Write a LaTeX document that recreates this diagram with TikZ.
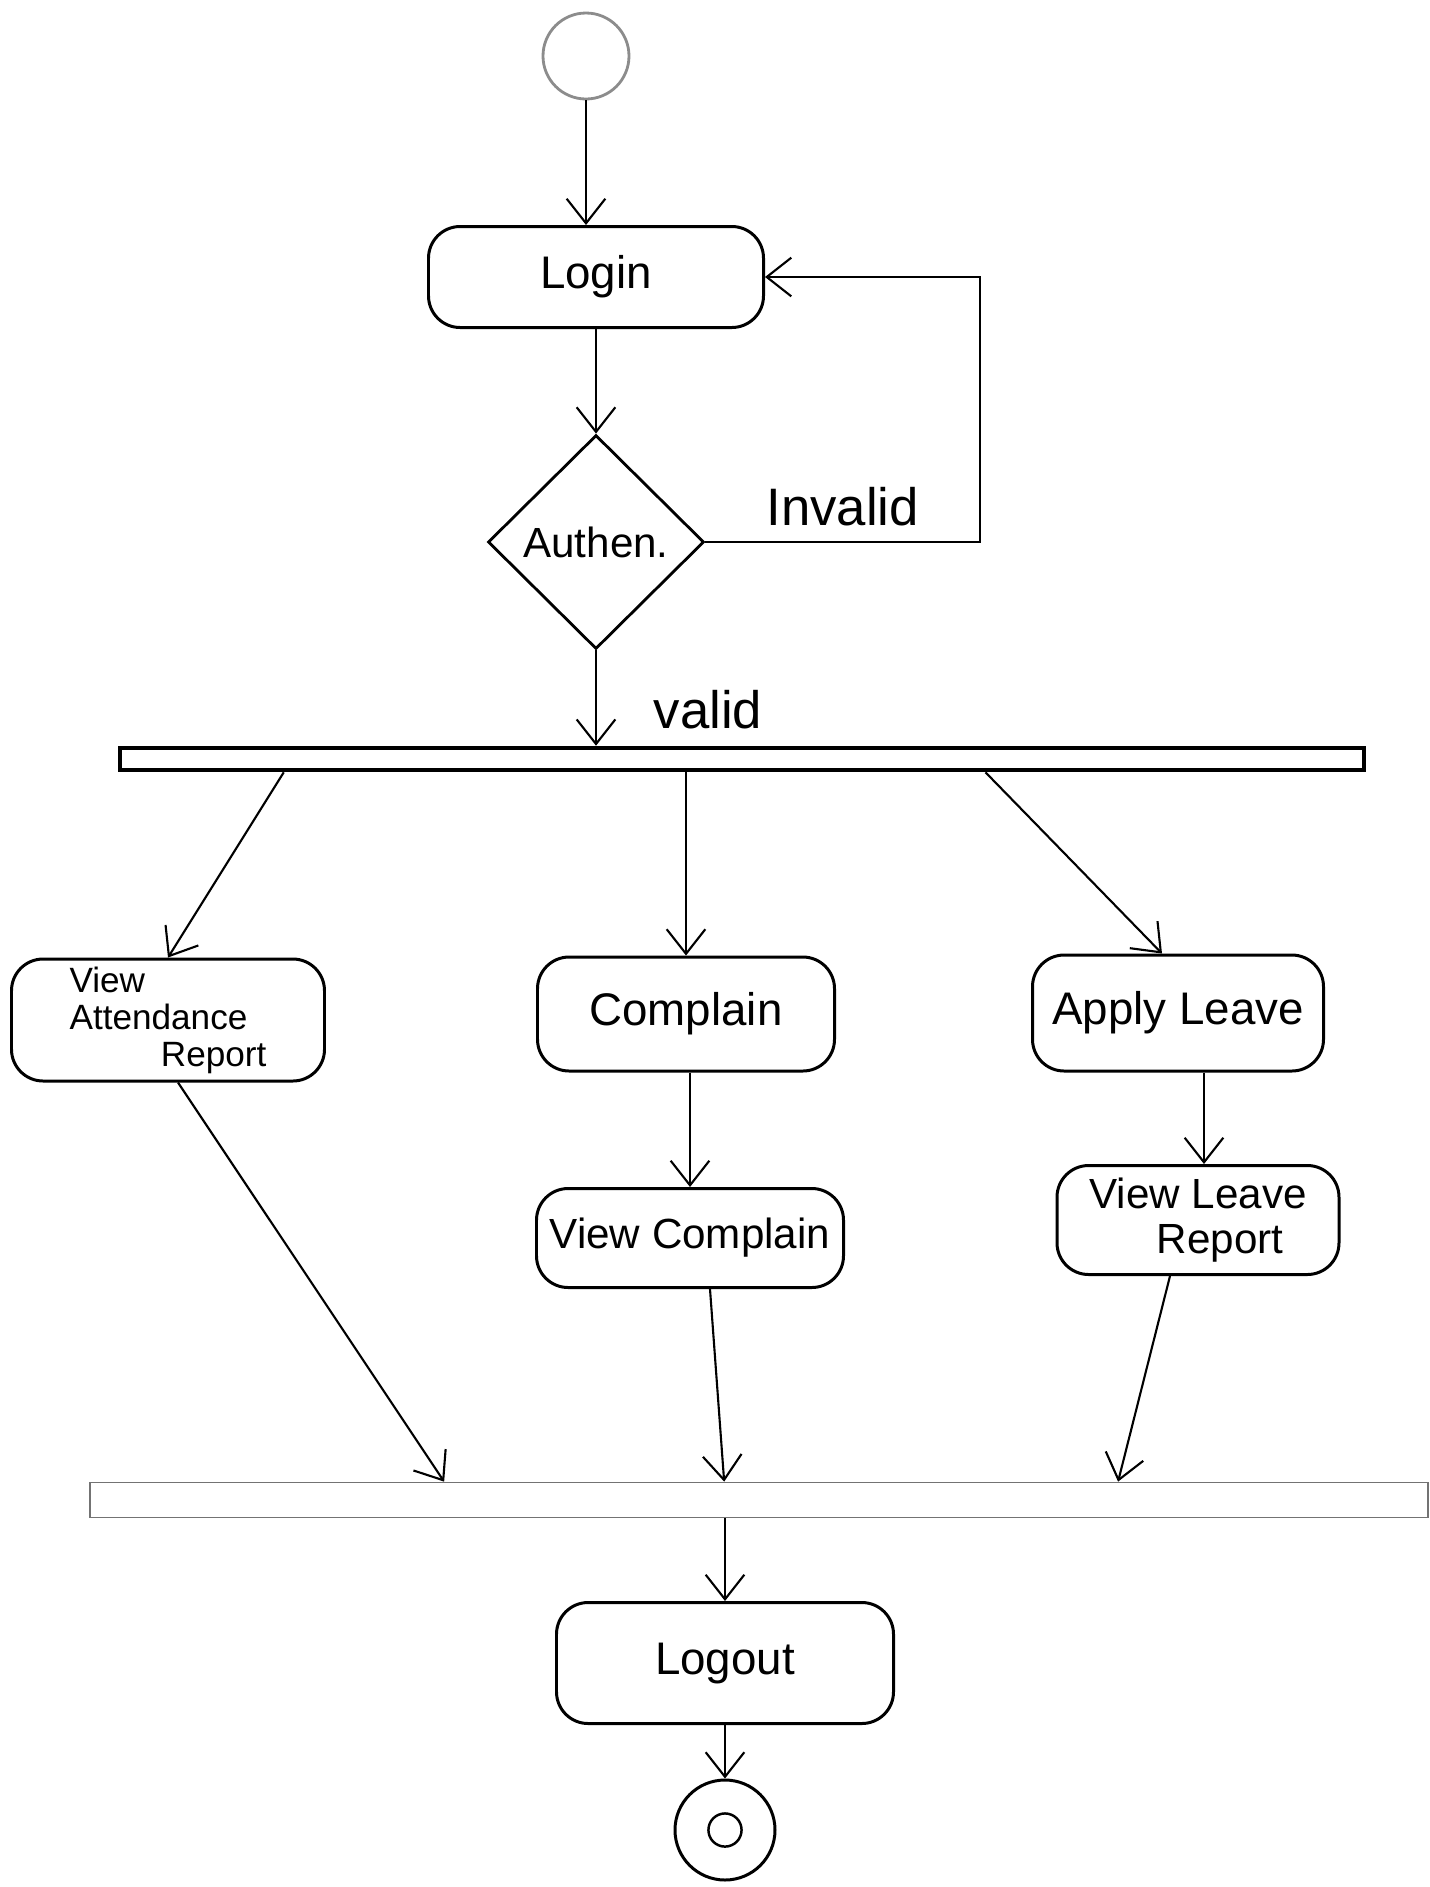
\documentclass[tikz,border=0pt]{standalone}
\usepackage{fontspec}
\setmainfont{Liberation Sans}
\usetikzlibrary{shapes.geometric,arrows.meta,calc}

\tikzset{
	activity/.style={draw, rounded corners=9pt, line width=0.85pt, align=center, font=\fontsize{13}{15}\selectfont},
	forkbar/.style={draw, rectangle, inner sep=0pt, line width=1.3pt},
	joinbar/.style={draw=black!55, rectangle, inner sep=0pt, line width=0.5pt},
	guard/.style={font=\fontsize{15}{17}\selectfont},
}

\begin{document}
\begin{tikzpicture}[>={Straight Barb[length=7pt,width=11pt]}, line width=0.6pt]
		\useasboundingbox (0,0) rectangle (14.30,-18.87);
		\node[circle,draw=black!45,line width=0.8pt,minimum size=0.86cm] (start) at (5.86,-0.56) {};
		\node[activity,minimum width=3.35cm,minimum height=1.01cm] (login) at (5.96,-2.77) {Login};
		\node[diamond,draw,line width=0.8pt,inner sep=0pt,minimum width=2.16cm,minimum height=2.14cm,font=\fontsize{12}{14}\selectfont] (authen) at (5.96,-5.42) {Authen.};
		\node[forkbar,minimum width=12.44cm,minimum height=0.22cm] (fork) at (7.42,-7.59) {};
		\coordinate (loopx) at (9.80,0);
		\node[activity,minimum width=3.13cm,minimum height=1.22cm,inner sep=2pt,font=\fontsize{10}{10.5}\selectfont,align=left] (attend) at (1.68,-10.20) {View\\Attendance\\\hspace*{2.6em}Report};
		\node[activity,minimum width=2.97cm,minimum height=1.14cm] (complain) at (6.86,-10.14) {Complain};
		\node[activity,minimum width=2.91cm,minimum height=1.16cm] (apply) at (11.78,-10.13) {Apply Leave};
		\node[activity,minimum width=3.07cm,minimum height=0.99cm,inner sep=3pt,font=\fontsize{12}{14}\selectfont] (viewcomp) at (6.90,-12.38) {View Complain};
		\node[activity,minimum width=2.82cm,minimum height=1.09cm,font=\fontsize{12}{13}\selectfont,align=left] (viewleave) at (11.98,-12.20) {View Leave\\\hspace*{1.6em}Report};
		\node[joinbar,minimum width=13.38cm,minimum height=0.35cm] (join) at (7.59,-15.00) {};
		\node[activity,minimum width=3.37cm,minimum height=1.21cm] (logout) at (7.25,-16.63) {Logout};
		\node[circle,draw,line width=0.85pt,minimum size=1.0cm] (finish) at (7.25,-18.30) {};
		\node[circle,draw,line width=0.7pt,minimum size=0.32cm] (finishdot) at (finish) {};

		\draw[->] (start.south) -- (start.south |- login.north);
		\draw[->] (login) -- (authen);
		\draw[->] (authen.east) -- node[guard,above=1pt]{Invalid} (authen.east -| loopx) |- (login.east);
		\draw[->] (authen.south) -- node[guard,right=0.45cm,pos=0.62]{valid} (authen.south |- fork.north);
		\draw[->] ($(fork.south west)!.133!(fork.south east)$) -- (attend.north);
		\draw[->] (complain.north |- fork.south) -- (complain.north);
		\draw[->] ($(fork.south west)!.695!(fork.south east)$) -- ([xshift=-0.16cm]apply.north);
		\draw[->] (complain.south -| viewcomp.north) -- (viewcomp.north);
		\draw[->] ([xshift=0.26cm]apply.south) -- ([xshift=0.06cm]viewleave.north);
		\draw[->] ([xshift=0.1cm]attend.south) -- ($(join.north west)!.265!(join.north east)$);
		\draw[->] ([xshift=0.2cm]viewcomp.south) -- ($(join.north west)!.474!(join.north east)$);
		\draw[->] ([xshift=-0.28cm]viewleave.south) -- ($(join.north west)!.768!(join.north east)$);
		\draw[->] (logout.north |- join.south) -- (logout.north);
		\draw[->] (logout) -- (finish);
	\end{tikzpicture}
\end{document}
